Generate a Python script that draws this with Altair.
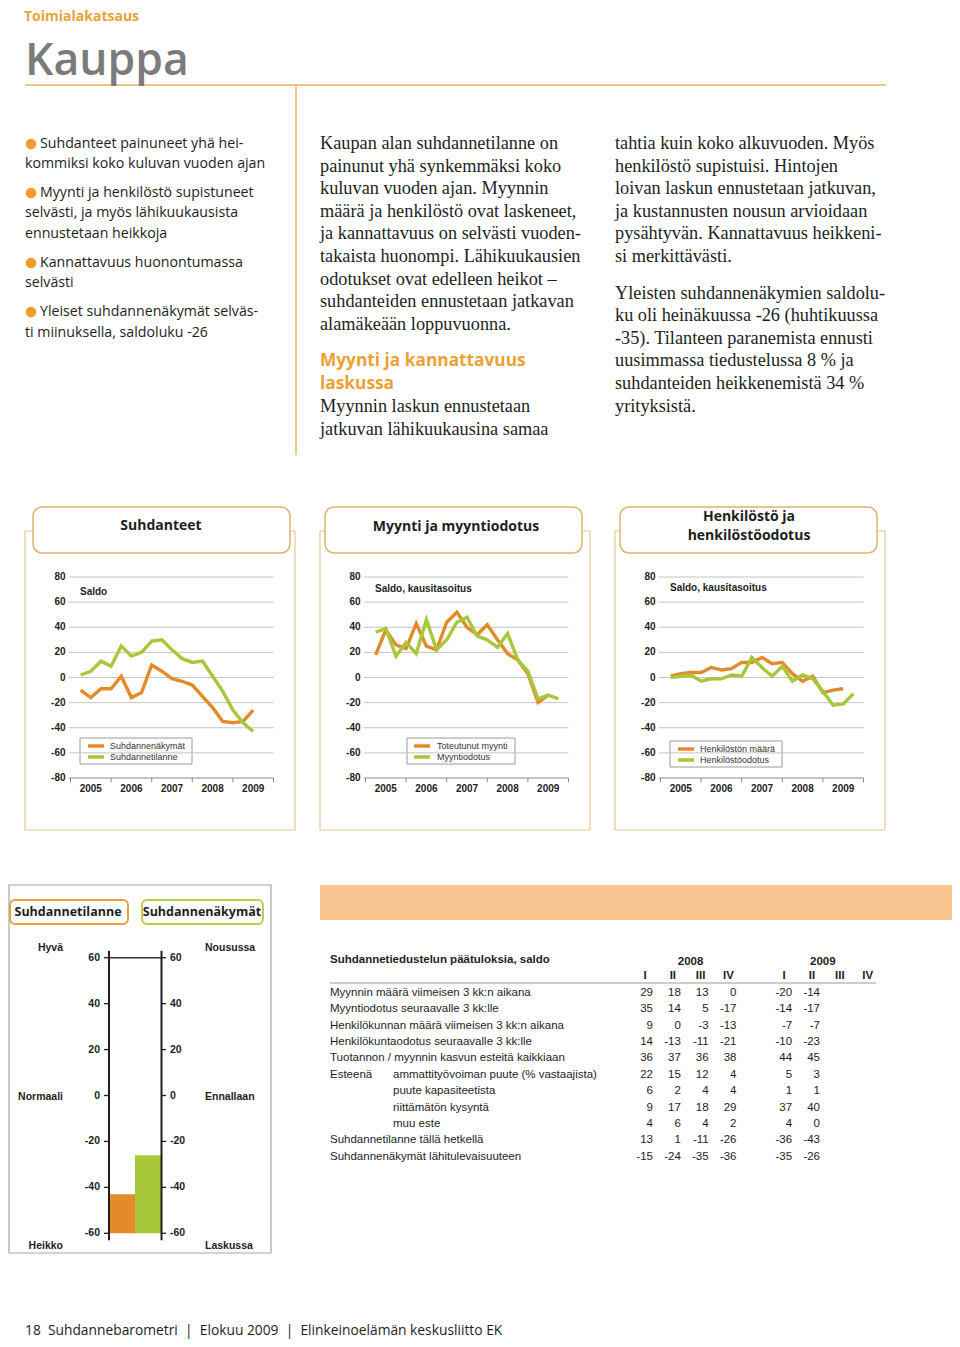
import altair as alt
import pandas as pd

# ---------------- data ----------------
periods = ["2005Q1", "2005Q2", "2005Q3", "2005Q4", "2006Q1", "2006Q2", "2006Q3", "2006Q4",
           "2007Q1", "2007Q2", "2007Q3", "2007Q4", "2008Q1", "2008Q2", "2008Q3", "2008Q4",
           "2009Q1", "2009Q2", "2009Q3"]
years = [2005, 2006, 2007, 2008, 2009]

suhdannenakymat = [-10, -16, -9, -9, 1, -16, -12, 10, 5, -1, -3, -6, -15, -24, -35, -36, -35, -26]
suhdannetilanne = [2, 5, 13, 9, 25, 17, 20, 29, 30, 22, 15, 12, 13, 1, -11, -26, -36, -43]
toteutunut_myynti = [18, 38, 26, 23, 43, 25, 22, 44, 52, 40, 34, 42, 30, 19, 14, 3, -20, -14]
myyntiodotus = [36, 39, 17, 28, 19, 46, 22, 30, 44, 48, 33, 30, 24, 35, 14, 5, -17, -14, -17]
henkiloston_maara = [1, 3, 4, 4, 8, 6, 7, 12, 12, 16, 11, 12, 3, -3, 1, -12, -10, -9]
henkilostoodotus = [0, 1, 2, -3, -1, -1, 2, 1, 16, 8, 1, 9, -3, 2, -1, -11, -22, -21, -13]

gauge_names = ["Suhdannetilanne", "Suhdannenäkymät"]
gauge_values = [-43, -26]

row_labels = ["Myynnin määrä viimeisen 3 kk:n aikana",
              "Myyntiodotus seuraavalle 3 kk:lle",
              "Henkilökunnan määrä viimeisen 3 kk:n aikana",
              "Henkilökuntaodotus seuraavalle 3 kk:lle",
              "Tuotannon / myynnin kasvun esteitä kaikkiaan",
              "ammattityövoiman puute (% vastaajista)",
              "puute kapasiteetista",
              "riittämätön kysyntä",
              "muu este",
              "Suhdannetilanne tällä hetkellä",
              "Suhdannenäkymät lähitulevaisuuteen"]
indented_rows = [5, 6, 7, 8]
vals_2008 = [[29, 18, 13, 0], [35, 14, 5, -17], [9, 0, -3, -13], [14, -13, -11, -21],
             [36, 37, 36, 38], [22, 15, 12, 4], [6, 2, 4, 4], [9, 17, 18, 29],
             [4, 6, 4, 2], [13, 1, -11, -26], [-15, -24, -35, -36]]
vals_2009 = [[-20, -14], [-14, -17], [-7, -7], [-10, -23], [44, 45], [5, 3], [1, 1],
             [37, 40], [4, 0], [-36, -43], [-35, -26]]
quarters = ["I", "II", "III", "IV"]

# ---------------- styles ----------------
ORANGE = "#E38A2B"
GREEN = "#A8C73A"
INK = "#1E1E1E"
TAN = "#DDB36C"
SANS = "Open Sans"
ARIAL = "Liberation Sans"
SERIF = "Liberation Serif"

PX = alt.Scale(domain=[8, 952], range=[0, 944], nice=False, zero=False)
PY = alt.Scale(domain=[8, 1339], range=[0, 1331], nice=False, zero=False)


def ptext(rows, size, font, weight="normal", color=INK, align="left", baseline="middle"):
    df = pd.DataFrame(rows, columns=["x", "y", "t"])
    return alt.Chart(df).mark_text(align=align, baseline=baseline, fontSize=size, font=font,
                                   fontWeight=weight, color=color).encode(
        x=alt.X("x:Q", scale=PX, axis=None), y=alt.Y("y:Q", scale=PY, axis=None), text="t:N")


def prect(rows, fill, stroke=None, sw=1.0, radius=0):
    df = pd.DataFrame(rows, columns=["x", "y", "x2", "y2"])
    kw = dict(fill=fill, cornerRadius=radius)
    if stroke:
        kw.update(stroke=stroke, strokeWidth=sw)
    return alt.Chart(df).mark_rect(**kw).encode(
        x=alt.X("x:Q", scale=PX, axis=None), x2="x2:Q",
        y=alt.Y("y:Q", scale=PY, axis=None), y2="y2:Q")


def prule(rows, color, sw):
    df = pd.DataFrame(rows, columns=["x", "y", "x2", "y2"])
    return alt.Chart(df).mark_rule(color=color, strokeWidth=sw).encode(
        x=alt.X("x:Q", scale=PX, axis=None), x2="x2:Q",
        y=alt.Y("y:Q", scale=PY, axis=None), y2="y2:Q")


# ---------------- page decoration & text ----------------
layers = []
layers.append(prule([(25, 85, 886, 85), (296, 85, 296, 455)], "#E9B35E", 1.5))
layers.append(ptext([(24, 17, "Toimialakatsaus")], 14, SANS, "bold", "#E9A23B"))
layers.append(ptext([(25, 75, "Kauppa")], 44.5, SANS, 600, "#7B7B7B", baseline="alphabetic"))

bul = pd.DataFrame({"x": [31, 31, 31, 31], "y": [144, 193, 263, 312]})
layers.append(alt.Chart(bul).mark_circle(size=110, color="#F39A2A", opacity=1).encode(
    x=alt.X("x:Q", scale=PX, axis=None), y=alt.Y("y:Q", scale=PY, axis=None)))
layers.append(ptext([
    (40, 144, "Suhdanteet painuneet yhä hei-"),
    (25, 164, "kommiksi koko kuluvan vuoden ajan"),
    (40, 193, "Myynti ja henkilöstö supistuneet"),
    (25, 213, "selvästi, ja myös lähikuukausista"),
    (25, 234, "ennustetaan heikkoja"),
    (40, 263, "Kannattavuus huonontumassa"),
    (25, 283, "selvästi"),
    (40, 312, "Yleiset suhdannenäkymät selväs-"),
    (25, 333, "ti miinuksella, saldoluku -26"),
], 14.2, SANS))

layers.append(ptext([
    (320, 144, "Kaupan alan suhdannetilanne on"),
    (320, 167, "painunut yhä synkemmäksi koko"),
    (320, 189, "kuluvan vuoden ajan. Myynnin"),
    (320, 212, "määrä ja henkilöstö ovat laskeneet,"),
    (320, 234, "ja kannattavuus on selvästi vuoden-"),
    (320, 257, "takaista huonompi. Lähikuukausien"),
    (320, 280, "odotukset ovat edelleen heikot –"),
    (320, 302, "suhdanteiden ennustetaan jatkavan"),
    (320, 325, "alamäkeään loppuvuonna."),
    (320, 407, "Myynnin laskun ennustetaan"),
    (320, 430, "jatkuvan lähikuukausina samaa"),
    (615, 144, "tahtia kuin koko alkuvuoden. Myös"),
    (615, 167, "henkilöstö supistuisi. Hintojen"),
    (615, 189, "loivan laskun ennustetaan jatkuvan,"),
    (615, 212, "ja kustannusten nousun arvioidaan"),
    (615, 234, "pysähtyvän. Kannattavuus heikkeni-"),
    (615, 257, "si merkittävästi."),
    (615, 294, "Yleisten suhdannenäkymien saldolu-"),
    (615, 316, "ku oli heinäkuussa -26 (huhtikuussa"),
    (615, 339, "-35). Tilanteen paranemista ennusti"),
    (615, 361, "uusimmassa tiedustelussa 8 % ja"),
    (615, 384, "suhdanteiden heikkenemistä 34 %"),
    (615, 407, "yrityksistä."),
], 18.3, SERIF))
layers.append(ptext([(320, 361, "Myynti ja kannattavuus"), (320, 384, "laskussa")],
                    17.3, SANS, "bold", "#EBA135"))

# chart panels frames
layers.append(prect([(25, 531, 295, 830), (320, 531, 590, 830), (615, 531, 885, 830)],
                    "white", "#E6C990", 1.2))
layers.append(prect([(33, 507, 290, 553), (325, 507, 582, 553), (620, 507, 877, 553)],
                    "white", TAN, 1.5, 9))
layers.append(ptext([(161, 526, "Suhdanteet"), (456, 527, "Myynti ja myyntiodotus"),
                     (749, 517, "Henkilöstö ja"), (749, 536, "henkilöstöodotus")],
                    14, SANS, "bold", INK, align="center"))
layers.append(ptext([(80, 592, "Saldo"), (375, 589, "Saldo, kausitasoitus"),
                     (670, 588, "Saldo, kausitasoitus")], 10, ARIAL, "bold"))
# legends
layers.append(prect([(80, 738, 192, 764), (407, 738, 515, 764), (670, 741, 782, 767)],
                    "white", "#9A9A9A", 1))
layers.append(prule([(88, 746, 104, 746), (414, 746, 430, 746), (678, 749, 694, 749)], ORANGE, 3.5))
layers.append(prule([(88, 757, 104, 757), (414, 757, 430, 757), (678, 760, 694, 760)], GREEN, 3.5))
layers.append(ptext([(110, 746, "Suhdannenäkymät"), (110, 757, "Suhdannetilanne"),
                     (437, 746, "Toteutunut myynti"), (437, 757, "Myyntiodotus"),
                     (700, 749, "Henkilöstön määrä"), (700, 760, "Henkilöstöodotus")],
                    9, ARIAL, "normal", "#333333"))

# gauge decoration
layers.append(prect([(9, 885, 271, 1253)], "white", "#A8A8A8", 1.2))
layers.append(prect([(10, 900, 128, 924)], "white", "#E8A040", 2, 5))
layers.append(prect([(142, 900, 263, 924)], "white", "#B7D04A", 2, 5))
layers.append(ptext([(68, 912, "Suhdannetilanne"), (202, 912, "Suhdannenäkymät")],
                    12.5, SANS, "bold", INK, align="center"))
layers.append(ptext([(63, 948, "Hyvä"), (63, 1097, "Normaali"), (63, 1246, "Heikko")],
                    10.5, ARIAL, "bold", INK, align="right"))
layers.append(ptext([(205, 948, "Nousussa"), (205, 1097, "Ennallaan"), (205, 1246, "Laskussa")],
                    10.5, ARIAL, "bold", INK))

# table decoration
layers.append(prect([(320, 885, 952, 920)], "#F8C590"))
layers.append(ptext([(330, 960, "Suhdannetiedustelun päätuloksia, saldo")], 11.5, ARIAL, "bold"))
layers.append(prule([(330, 983, 876, 983)], "#9A9A9A", 1))

# footer
layers.append(ptext([(25, 1330.5, "18\u00a0 Suhdannebarometri\u00a0 |\u00a0 Elokuu 2009\u00a0 |\u00a0 Elinkeinoelämän keskusliitto EK")],
                    13.8, SANS))

page = alt.layer(*layers)


# ---------------- line chart panels ----------------
def qpos(p):
    return int(p[:4]) + int(p[5]) / 4.0


def panel(left, s_o, s_g):
    xs = alt.Scale(domain=[2005, 2010], range=[left + 45.5 - 8, left + 248.5 - 8], nice=False, zero=False)
    ys = alt.Scale(domain=[-80, 80], range=[770, 569], nice=False, zero=False)

    def X(f):
        return alt.X(f, scale=xs, axis=None)

    def Y(f):
        return alt.Y(f, scale=ys, axis=None)

    gv = list(range(-60, 81, 20))
    grid = alt.Chart(pd.DataFrame({"v": gv, "a": [2004.96] * len(gv), "b": [2010] * len(gv)})).mark_rule(
        color="#C4C4C4", strokeWidth=1).encode(x=X("a:Q"), x2="b:Q", y=Y("v:Q"))
    base = alt.Chart(pd.DataFrame({"v": [-80], "a": [2004.96], "b": [2010]})).mark_rule(
        color="#8C8C8C", strokeWidth=1.2).encode(x=X("a:Q"), x2="b:Q", y=Y("v:Q"))
    tk = list(range(2005, 2011))
    ticks = alt.Chart(pd.DataFrame({"x": tk, "v": [-80] * len(tk), "v2": [-83.5] * len(tk)})).mark_rule(
        color="#8C8C8C", strokeWidth=1).encode(x=X("x:Q"), y=Y("v:Q"), y2="v2:Q")
    lv = list(range(-80, 81, 20))
    ylab = alt.Chart(pd.DataFrame({"v": lv, "s": [str(v) for v in lv], "x": [2005] * len(lv)})).mark_text(
        align="right", baseline="middle", dx=-5, font=ARIAL, fontSize=10, fontWeight="bold", color=INK).encode(
        x=X("x:Q"), y=Y("v:Q"), text="s:N")
    xlab = alt.Chart(pd.DataFrame({"yr": [str(y) for y in years], "x": [y + 0.5 for y in years],
                                   "v": [-80] * len(years)})).mark_text(
        align="center", baseline="middle", dy=10.5, font=ARIAL, fontSize=10, fontWeight="bold", color=INK).encode(
        x=X("x:Q"), y=Y("v:Q"), text="yr:N")
    lo = alt.Chart(pd.DataFrame({"t": [qpos(p) for p in periods[:len(s_o)]], "v": s_o})).mark_line(
        color=ORANGE, strokeWidth=3.4).encode(x=X("t:Q"), y=Y("v:Q"))
    lg = alt.Chart(pd.DataFrame({"t": [qpos(p) for p in periods[:len(s_g)]], "v": s_g})).mark_line(
        color=GREEN, strokeWidth=3.4).encode(x=X("t:Q"), y=Y("v:Q"))
    return alt.layer(grid, base, ticks, ylab, xlab, lo, lg)


p1 = panel(25, suhdannenakymat, suhdannetilanne)
p2 = panel(320, toteutunut_myynti, myyntiodotus)
p3 = panel(615, henkiloston_maara, henkilostoodotus)

# ---------------- gauge ----------------
gy = alt.Scale(domain=[-60, 60], range=[1225.3, 949.7], nice=False, zero=False)
gx = alt.Scale(domain=gauge_names, range=[101, 153], paddingInner=0, paddingOuter=0)
gdf = pd.DataFrame({"n": gauge_names, "v": gauge_values, "b": [-60, -60]})
bars = alt.Chart(gdf).mark_bar().encode(
    x=alt.X("n:N", scale=gx, axis=None), y=alt.Y("v:Q", scale=gy, axis=None), y2="b:Q",
    color=alt.Color("n:N", scale=alt.Scale(domain=gauge_names, range=[ORANGE, GREEN]), legend=None))
tv = list(range(-60, 61, 20))
tdf = pd.DataFrame({"v": tv, "s": [str(v) for v in tv]})
GY = alt.Y("v:Q", scale=gy, axis=None)
lt = alt.Chart(tdf).mark_rule(color=INK, strokeWidth=1.3).encode(y=GY, x=alt.value(96), x2=alt.value(101))
rt = alt.Chart(tdf).mark_rule(color=INK, strokeWidth=1.3).encode(y=GY, x=alt.value(153), x2=alt.value(158))
ll = alt.Chart(tdf).mark_text(align="right", baseline="middle", font=ARIAL, fontSize=10.5,
                              fontWeight="bold", color=INK).encode(y=GY, x=alt.value(92), text="s:N")
rl = alt.Chart(tdf).mark_text(align="left", baseline="middle", font=ARIAL, fontSize=10.5,
                              fontWeight="bold", color=INK).encode(y=GY, x=alt.value(162), text="s:N")
adf = pd.DataFrame({"top": [63], "bot": [-63], "v": [60]})
ax_l = alt.Chart(adf).mark_rule(color=INK, strokeWidth=2).encode(
    y=alt.Y("top:Q", scale=gy, axis=None), y2="bot:Q", x=alt.value(101))
ax_r = alt.Chart(adf).mark_rule(color=INK, strokeWidth=2).encode(
    y=alt.Y("top:Q", scale=gy, axis=None), y2="bot:Q", x=alt.value(153.5))
top = alt.Chart(adf).mark_rule(color="#333333", strokeWidth=1.5).encode(
    y=GY, x=alt.value(101), x2=alt.value(153.5))
gauge = alt.layer(bars, top, lt, rt, ll, rl, ax_l, ax_r)

# ---------------- table ----------------
tx = alt.Scale(domain=[0, 6], range=[645, 812], nice=False, zero=False)
ty = alt.Scale(domain=[0, 10], range=[984.7, 1148.7], nice=False, zero=False)
cells = []
for r in range(len(row_labels)):
    for c, v in enumerate(vals_2008[r]):
        cells.append({"r": r, "c": c, "val": str(v)})
    for c, v in enumerate(vals_2009[r]):
        cells.append({"r": r, "c": 5 + c, "val": str(v)})
cdf = pd.DataFrame(cells)
TX = lambda f: alt.X(f, scale=tx, axis=None)
TY = lambda f: alt.Y(f, scale=ty, axis=None)
tcells = alt.Chart(cdf).mark_text(align="right", baseline="middle", font=ARIAL, fontSize=11.5, color=INK).encode(
    x=TX("c:Q"), y=TY("r:Q"), text="val:N")
qdf = pd.DataFrame({"c": [0, 1, 2, 3, 5, 6, 7, 8], "r": [-1] * 8, "q": quarters + quarters})
thead = alt.Chart(qdf).mark_text(align="center", baseline="middle", dx=-8, font=ARIAL, fontSize=11.5,
                                 fontWeight="bold", color=INK).encode(x=TX("c:Q"), y=TY("r:Q"), text="q:N")
ydf = pd.DataFrame({"c": [1.35, 6.1], "r": [-1.85, -1.85], "y": ["2008", "2009"]})
tyear = alt.Chart(ydf).mark_text(align="center", baseline="middle", font=ARIAL, fontSize=11.5,
                                 fontWeight="bold", color=INK).encode(x=TX("c:Q"), y=TY("r:Q"), text="y:N")
main_rows = [i for i in range(len(row_labels)) if i not in indented_rows]
mdf = pd.DataFrame({"r": main_rows + [5], "lbl": [row_labels[i] for i in main_rows] + ["Esteenä"]})
idf = pd.DataFrame({"r": indented_rows, "lbl": [row_labels[i] for i in indented_rows]})
tlab = alt.Chart(mdf).mark_text(align="left", baseline="middle", font=ARIAL, fontSize=11.5, color=INK).encode(
    x=alt.value(322), y=TY("r:Q"), text="lbl:N")
tlab2 = alt.Chart(idf).mark_text(align="left", baseline="middle", font=ARIAL, fontSize=11.5, color=INK).encode(
    x=alt.value(385), y=TY("r:Q"), text="lbl:N")
table = alt.layer(tcells, thead, tyear, tlab, tlab2)

chart = alt.layer(page, p1, p2, p3, gauge, table).resolve_scale(
    x="independent", y="independent", color="independent"
).properties(width=944, height=1331, padding=0, background="white",
             autosize=alt.AutoSizeParams(type="none")).configure_view(stroke=None)

chart.save("out.html", embed_options={"renderer": "svg", "actions": False})
